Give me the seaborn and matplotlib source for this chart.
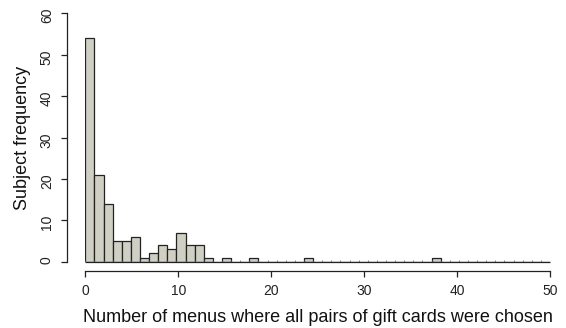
import numpy as np
import pandas as pd
import matplotlib
matplotlib.use("Agg")
import matplotlib.pyplot as plt
import seaborn as sns

# Data: number of menus (integer values) and subject counts
menu_values = [0, 1, 2, 3, 4, 5, 6, 7, 8, 9, 10, 11, 12, 13, 15, 18, 24, 38]
subject_counts = [54, 21, 14, 5, 5, 6, 1, 2, 4, 3, 7, 4, 4, 1, 1, 1, 1, 1]
x_ticks = [0, 10, 20, 30, 40, 50]
y_ticks = [0, 10, 20, 30, 40, 50, 60]

obs = np.repeat(menu_values, subject_counts)
df = pd.DataFrame({"menus": obs})
edges = np.linspace(0, 50, 52)

sns.set_style("ticks")
plt.rcParams['font.family'] = ['Liberation Sans', 'DejaVu Sans']

fig = plt.figure(figsize=(5.66, 3.28), dpi=100)
ax = fig.add_axes([85.3 / 566, 1 - 261.7 / 328, (550 - 85.3) / 566, (261.7 - 13.3) / 328])

sns.histplot(data=df, x="menus", bins=edges, stat="count", ax=ax,
             color="#cfcfc3", edgecolor="#222222", linewidth=0.9, alpha=1.0)
# zero-count bins drawn as flat outlines along the baseline (as in R's hist)
ax.hlines(0, edges[0], edges[-1], color="#222222", linewidth=0.9, zorder=3, clip_on=False)
ax.vlines(edges, 0, 0.35, color="#555555", linewidth=0.5, zorder=3)

ax.set_xlim(0, 50)
ax.set_ylim(0, 60)
ax.set_xticks(x_ticks)
ax.set_yticks(y_ticks)
ax.set_xticklabels([str(t) for t in x_ticks], fontsize=7.5)
ax.set_yticklabels([str(t) for t in y_ticks], fontsize=7.5)
ax.tick_params(axis="y", labelrotation=90)
for lab in ax.get_yticklabels():
    lab.set_verticalalignment("center")

for s in ["top", "right"]:
    ax.spines[s].set_visible(False)
ax.spines["left"].set_position(("outward", 13.4))
ax.spines["bottom"].set_position(("outward", 7.0))
ax.spines["left"].set_bounds(0, 60)
ax.spines["bottom"].set_bounds(0, 50)
for s in ["left", "bottom"]:
    ax.spines[s].set_color("#222222")
    ax.spines[s].set_linewidth(0.9)
ax.tick_params(axis="both", length=4.3, width=0.9, color="#222222", pad=5, labelcolor="#222222")

ax.set_xlabel("Number of menus where all pairs of gift cards were chosen", fontsize=13, labelpad=8, color="#111111")
ax.set_ylabel("Subject frequency", fontsize=13, labelpad=6, color="#111111")

fig.savefig("out.png", dpi=100)
